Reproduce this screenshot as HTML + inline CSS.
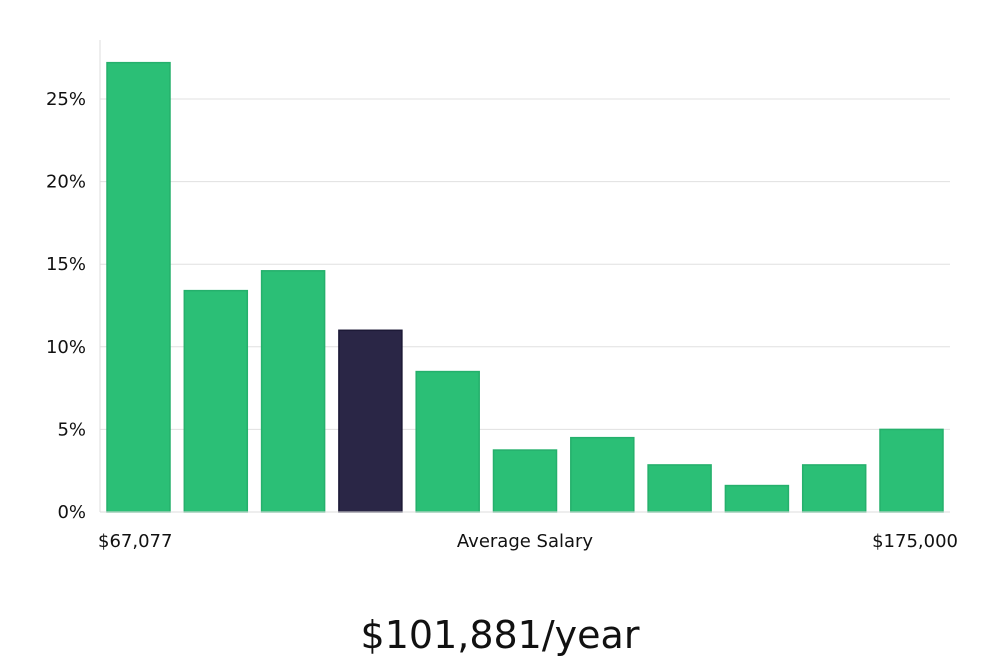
<!DOCTYPE html>
<html><head><meta charset="utf-8"><style>
body{margin:0;background:#fff;width:1000px;height:660px;overflow:hidden;font-family:"Liberation Sans","DejaVu Sans",sans-serif;}
svg text{font-family:"DejaVu Sans","Liberation Sans",sans-serif;}
</style></head><body>
<svg id="chart" width="1000" height="660">
<g id="grid"></g><g id="bars"></g><g id="labels"></g>
<line x1="100" y1="40" x2="100" y2="512" stroke="#ddd" stroke-width="1"/>
<line x1="100" y1="512" x2="950" y2="512" stroke="#ddd" stroke-width="1"/>
<text x="98" y="547" font-size="18" fill="#111">$67,077</text>
<text x="525" y="547" font-size="18" fill="#111" text-anchor="middle">Average Salary</text>
<text x="958" y="547" font-size="18" fill="#111" text-anchor="end">$175,000</text>
<text x="500" y="648" font-size="38" fill="#111" text-anchor="middle" font-family="Liberation Sans, sans-serif">$101,881/year</text>
</svg>
<script>
const values=[27.2,13.4,14.6,11.0,8.5,3.75,4.5,2.85,1.6,2.85,5.0];
const highlightIndex=3;
const ticks=[0,5,10,15,20,25];
const tickLabels=["0%","5%","10%","15%","20%","25%"];
const NS="http://www.w3.org/2000/svg";
const y0=512,pxPer=16.52,xStart=107,step=77.3,bw=63;
function yScale(v){return y0-v*pxPer;}
function xScale(i){return xStart+i*step;}
const grid=document.getElementById('grid'),bars=document.getElementById('bars'),labels=document.getElementById('labels');
ticks.forEach((t,i)=>{
 if(t>0){const l=document.createElementNS(NS,'line');
 l.setAttribute('x1',100);l.setAttribute('x2',950);l.setAttribute('y1',yScale(t));l.setAttribute('y2',yScale(t));
 l.setAttribute('stroke','#e0e0e0');
 
 
 grid.appendChild(l);}
 const tx=document.createElementNS(NS,'text');
 tx.setAttribute('x',86);tx.setAttribute('y',yScale(t)+6);tx.setAttribute('text-anchor','end');
 tx.setAttribute('font-size','18');tx.setAttribute('fill','#111');tx.textContent=tickLabels[i];
 
 
 labels.appendChild(tx);
});
values.forEach((v,i)=>{
 const r=document.createElementNS(NS,'rect');
 r.setAttribute('x',xScale(i));r.setAttribute('y',yScale(v));r.setAttribute('width',bw);r.setAttribute('height',y0-yScale(v));
 const hi=i===highlightIndex;
 r.setAttribute('fill',hi?'#2a2646':'#2bbf76');
 r.setAttribute('stroke',hi?'#1c1936':'#25b06c');r.setAttribute('stroke-width','1.5');
 
 
 bars.appendChild(r);
});
</script>
</body></html>
